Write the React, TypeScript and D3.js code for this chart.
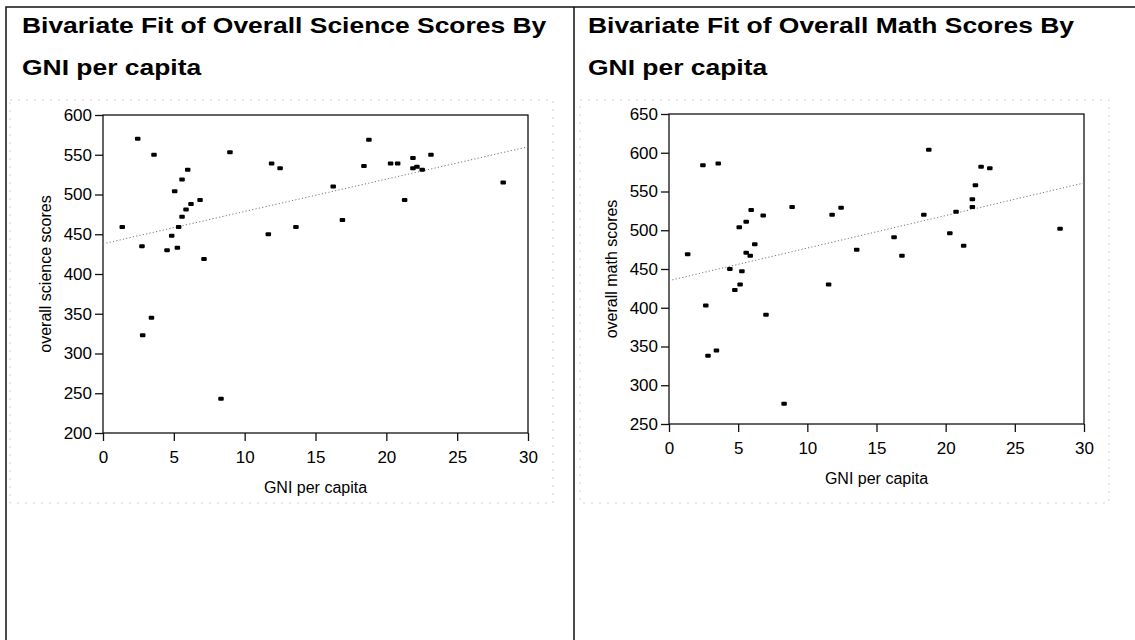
import React, { useEffect, useRef } from 'react';
import * as d3 from 'd3';

// GNI per capita (thousands) vs overall science score
const scienceGni = [
  1.36, 2.45, 2.75, 2.8, 3.42, 3.6, 4.52, 4.85, 5.06, 5.25, 5.34, 5.58, 5.58, 5.86, 5.98, 6.21, 6.85, 7.13, 8.33,
  8.96, 11.67, 11.9, 12.5, 13.62, 16.25, 16.9, 18.42, 18.77, 20.3, 20.8, 21.29, 21.88, 21.88, 22.16, 22.53, 23.15, 28.25,
];
const scienceScores = [
  459, 570, 435, 323, 345, 550, 430, 448, 504, 433, 459, 519, 472, 481, 531, 488, 493, 419, 243,
  553, 450, 539, 533, 459, 510, 468, 536, 569, 539, 539, 493, 546, 533, 535, 531, 550, 515,
];

// GNI per capita vs overall math score
const mathGni = [
  1.35, 2.45, 2.66, 2.82, 3.43, 3.56, 4.4, 4.76, 5.08, 5.14, 5.27, 5.58, 5.58, 5.87, 5.94, 6.2, 6.81, 7.01, 8.32,
  8.9, 11.54, 11.79, 12.44, 13.57, 16.27, 16.84, 18.42, 18.78, 20.3, 20.75, 21.3, 21.93, 21.93, 22.15, 22.56, 23.19, 28.27,
];
const mathScores = [
  469, 584, 403, 338, 345, 586, 450, 423, 504, 430, 447, 511, 471, 467, 526, 482, 519, 391, 276,
  530, 430, 520, 529, 475, 491, 467, 520, 604, 496, 524, 480, 540, 530, 558, 582, 580, 502,
];

const gniTicks = [0, 5, 10, 15, 20, 25, 30];
const scienceTicks = [200, 250, 300, 350, 400, 450, 500, 550, 600];
const mathTicks = [250, 300, 350, 400, 450, 500, 550, 600, 650];

// fitted line: value at GNI = 0 and at GNI = 30
const scienceFit = [438, 560];
const mathFit = [435, 561];

const FONT = '"Liberation Sans", Arial, Helvetica, sans-serif';

type Panel = {
  titleX: number;
  left: number;
  right: number;
  top: number;
  bottom: number;
  xs: number[];
  ys: number[];
  yTicks: number[];
  fit: number[];
  yLabel: string;
  boxLeft: number;
  boxRight: number;
  titleWord: string;
};

function drawPanel(svg: d3.Selection<SVGSVGElement, unknown, null, undefined>, p: Panel) {
  const x = d3.scaleLinear().domain([0, 30]).range([p.left, p.right]);
  const y = d3.scaleLinear().domain([p.yTicks[0], p.yTicks[p.yTicks.length - 1]]).range([p.bottom, p.top]);

  // title (the scan is stretched sideways, so the type is wider than it is tall)
  const titleLines = [`Bivariate Fit of Overall ${p.titleWord} Scores By`, 'GNI per capita'];
  titleLines.forEach((t, i) => {
    svg.append('text')
      .attr('transform', `translate(${p.titleX},${33 + i * 42}) scale(1.23,1)`)
      .attr('font-family', FONT)
      .attr('font-size', 21.5)
      .attr('font-weight', 'bold')
      .attr('fill', '#000')
      .text(t);
  });

  // faint dotted outline of the report area
  svg.append('rect')
    .attr('x', p.boxLeft)
    .attr('y', 100)
    .attr('width', p.boxRight - p.boxLeft)
    .attr('height', 403)
    .attr('fill', 'none')
    .attr('stroke', '#c8c8c8')
    .attr('stroke-width', 0.8)
    .attr('stroke-dasharray', '2,6');

  const g = svg.append('g');

  // plot frame
  g.append('rect')
    .attr('x', p.left)
    .attr('y', p.top)
    .attr('width', p.right - p.left)
    .attr('height', p.bottom - p.top)
    .attr('fill', 'none')
    .attr('stroke', '#111')
    .attr('stroke-width', 1.3);

  const xAxis = g.append('g')
    .attr('transform', `translate(0,${p.bottom})`)
    .call(d3.axisBottom(x).tickValues(gniTicks).tickFormat(d3.format('d')).tickSize(8).tickPadding(10));
  const yAxis = g.append('g')
    .attr('transform', `translate(${p.left},0)`)
    .call(d3.axisLeft(y).tickValues(p.yTicks).tickFormat(d3.format('d')).tickSize(8).tickPadding(3));

  [xAxis, yAxis].forEach(a => {
    a.select('.domain').remove();
    a.selectAll('line').attr('stroke', '#111').attr('stroke-width', 1.3);
    a.selectAll('text').attr('font-family', FONT).attr('font-size', 17).attr('fill', '#000');
  });

  // fit line
  g.append('line')
    .attr('x1', x(0))
    .attr('y1', y(p.fit[0]))
    .attr('x2', x(30))
    .attr('y2', y(p.fit[1]))
    .attr('stroke', '#777')
    .attr('stroke-width', 1)
    .attr('stroke-dasharray', '1.2,2.2');

  // points
  g.selectAll('rect.pt')
    .data(p.xs.map((v, i) => [v, p.ys[i]]))
    .enter()
    .append('rect')
    .attr('class', 'pt')
    .attr('x', d => x(d[0]) - 2.75)
    .attr('y', d => y(d[1]) - 2)
    .attr('width', 5.5)
    .attr('height', 4)
    .attr('rx', 1)
    .attr('fill', '#000');

  // axis titles
  g.append('text')
    .attr('x', (p.left + p.right) / 2)
    .attr('y', p.bottom + 60)
    .attr('text-anchor', 'middle')
    .attr('font-family', FONT)
    .attr('font-size', 16)
    .text('GNI per capita');

  g.append('text')
    .attr('transform', `translate(${p.left - 52},${(p.top + p.bottom) / 2}) rotate(-90)`)
    .attr('text-anchor', 'middle')
    .attr('font-family', FONT)
    .attr('font-size', 16)
    .text(p.yLabel);
}

export default function App() {
  const svgRef = useRef<SVGSVGElement>(null);

  useEffect(() => {
    if (!svgRef.current) return;
    const svg = d3.select(svgRef.current);
    svg.selectAll('*').remove();

    svg.append('rect').attr('width', 1135).attr('height', 640).attr('fill', '#fff');

    // outer report border and divider
    svg.append('path')
      .attr('d', 'M6,640 V7 H1135 M574,7 V640')
      .attr('fill', 'none')
      .attr('stroke', '#111')
      .attr('stroke-width', 1.5);

    drawPanel(svg, {
      titleX: 22,
      left: 103,
      right: 528,
      top: 115,
      bottom: 433,
      xs: scienceGni,
      ys: scienceScores,
      yTicks: scienceTicks,
      fit: scienceFit,
      yLabel: 'overall science scores',
      boxLeft: 10,
      boxRight: 553,
      titleWord: 'Science',
    });

    drawPanel(svg, {
      titleX: 588,
      left: 669,
      right: 1084,
      top: 114,
      bottom: 424,
      xs: mathGni,
      ys: mathScores,
      yTicks: mathTicks,
      fit: mathFit,
      yLabel: 'overall math scores',
      boxLeft: 580,
      boxRight: 1109,
      titleWord: 'Math',
    });
  }, []);

  return (
    <svg
      ref={svgRef}
      width={1135}
      height={640}
      style={{ position: 'absolute', left: 0, top: 0, display: 'block' }}
    />
  );
}
